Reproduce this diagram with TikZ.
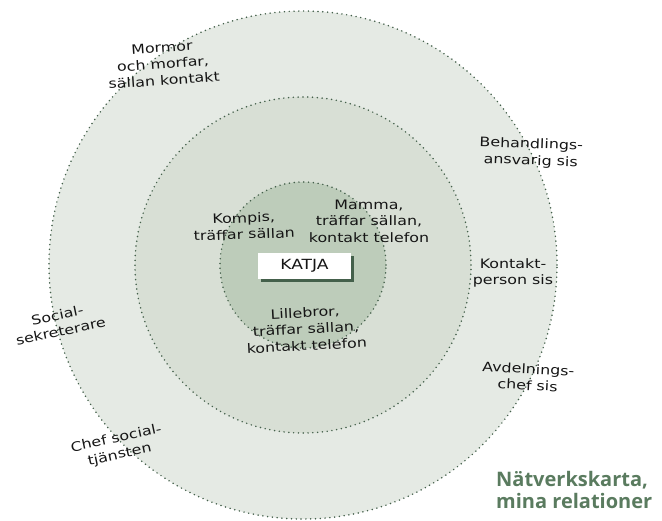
\documentclass[tikz,border=0pt]{standalone}
\usepackage{fontspec}
\setmainfont{DejaVu Sans}[FakeStretch=1.22]
\newfontfamily\titlefont{Open Sans}
\definecolor{outerc}{HTML}{E5EAE4}
\definecolor{midc}{HTML}{D8DFD5}
\definecolor{innerc}{HTML}{BDCCBA}
\definecolor{dotc}{HTML}{44604B}
\definecolor{titlec}{HTML}{5A7B5F}
\definecolor{inkc}{HTML}{151515}
\begin{document}
\begin{tikzpicture}[x=1pt,y=-1pt,
  ring/.style={circle, draw=dotc, line width=1.7pt, dash pattern=on 0pt off 4.8pt, line cap=round, inner sep=0pt},
  hand/.style={font=\fontsize{13}{16.5}\selectfont, align=center, inner sep=0pt, text=inkc},
  namebox/.style={draw=none, fill=white, minimum width=93pt, minimum height=26pt, inner sep=0pt, font=\fontsize{14}{16}\selectfont, text=inkc}
]
\path[use as bounding box] (0,0) rectangle (662,520);
\node[ring, fill=outerc, minimum size=508pt] (outer) at (303,265) {};
\node[ring, fill=midc, minimum size=336pt] (middle) at (303,265) {};
\node[ring, fill=innerc, minimum size=166pt] (inner) at (303,265) {};
\fill[dotc] (260.5,256) rectangle (353.5,282);
\node[namebox] (katja) at (304.5,266) {KATJA};

\node[hand, rotate=4] (mormor) at (163,64) {Mormor\\och morfar,\\sällan kontakt};
\node[hand, rotate=-2] (behandl) at (531,153) {Behandlings-\\ansvarig sis};
\node[hand] (kontakt) at (513,273) {Kontakt-\\person sis};
\node[hand, rotate=-3] (avdeln) at (528,377) {Avdelnings-\\chef sis};
\node[hand, rotate=12] (social) at (59,323) {Social-\\sekreterare};
\node[hand, rotate=12] (chefsoc) at (118,447) {Chef social-\\tjänsten};
\node[hand, rotate=2] (kompis) at (244,226) {Kompis,\\träffar sällan};
\node[hand] (mamma) at (369,221) {Mamma,\\träffar sällan,\\kontakt telefon};
\node[hand, rotate=3] (lillebror) at (306,329) {Lillebror,\\träffar sällan,\\kontakt telefon};

\node[anchor=west, align=left, inner sep=0pt, text=titlec, font=\titlefont\bfseries\fontsize{20}{22}\selectfont] (title) at (496,490) {Nätverkskarta,\\mina relationer};
\end{tikzpicture}
\end{document}
